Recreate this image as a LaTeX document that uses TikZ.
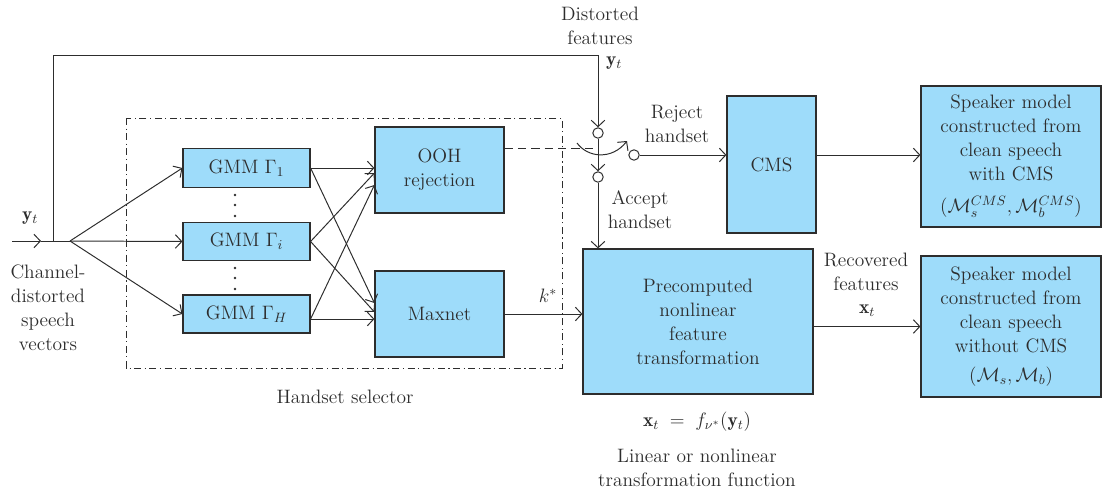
\documentclass[tikz,border=0pt]{standalone}
\usepackage{fix-cm}
\usepackage{fontspec}
\usetikzlibrary{arrows.meta,calc}
\definecolor{boxfill}{RGB}{158,220,250}
\definecolor{ink}{RGB}{45,45,45}
\tikzset{
  box/.style={draw=ink, fill=boxfill, line width=0.8pt, inner sep=0pt, align=center, text=ink},
  arr/.style={draw=ink, line width=0.7pt, -{Straight Barb[length=1.6mm,width=3.4mm,line width=0.7pt]}},
  ln/.style={draw=ink, line width=0.7pt},
  lbl/.style={text=ink, align=center, inner sep=0pt},
  sw/.style={circle, draw=ink, fill=white, line width=0.7pt, minimum size=0.26cm, inner sep=0pt},
  every node/.append style={font=\fontsize{13.8}{17}\selectfont}
}
\begin{document}
\begin{tikzpicture}[x=0.025cm,y=-0.025cm]
\useasboundingbox (0,0) rectangle (1103,493);

% boxes
\node[box, minimum width=3.175cm, minimum height=0.98cm] (g1) at (246.5,168) {GMM $\Gamma_1$};
\node[box, minimum width=3.175cm, minimum height=0.95cm] (gi) at (246.5,241.5) {GMM $\Gamma_i$};
\node[box, minimum width=3.175cm, minimum height=0.95cm] (gH) at (246.5,314) {GMM $\Gamma_H$};
\node[box, minimum width=3.225cm, minimum height=2.15cm] (ooh) at (439.5,170) {OOH\\rejection};
\node[box, minimum width=3.225cm, minimum height=2.15cm] (max) at (439.5,314) {Maxnet};
\node[box, minimum width=2.225cm, minimum height=3.425cm] (cms) at (771.5,164.5) {CMS};
\node[box, minimum width=5.75cm, minimum height=3.625cm] (pre) at (698,321.5) {Precomputed\\nonlinear\\feature\\transformation};
\node[box, minimum width=4.5cm, minimum height=3.525cm] (sm1) at (1011,156.5) {Speaker model\\constructed from\\clean speech\\with CMS\\[6pt]$(\mathcal{M}_s^{CMS},\mathcal{M}_b^{CMS})$};
\node[box, minimum width=4.5cm, minimum height=3.525cm] (sm2) at (1011,326.5) {Speaker model\\constructed from\\clean speech\\without CMS\\[4pt]$(\mathcal{M}_s,\mathcal{M}_b)$};

% handset selector frame
\draw[ink, line width=0.7pt, dash pattern=on 5pt off 2.5pt on 0.8pt off 2.5pt] (126,118) rectangle (562,368);
\node[lbl] (hs) at (345,397) {Handset selector};

% dots
\foreach \yy in {195,205,216,268,278,289} \fill[ink] (235,\yy) circle (1.3);

% switch circles
\node[sw] (c1) at (598,133) {};
\node[sw] (c2) at (598,177) {};
\node[sw] (c3) at (634,155) {};

% coordinates
\coordinate (inA) at (12,241);
\coordinate (inM) at (41,241);
\coordinate (J) at (70,241);
\coordinate (T1) at (53,241);
\coordinate (T3) at (598,55);
\coordinate (d2) at (597,148);
\coordinate (s1) at (577,143);
\coordinate (s2) at (627,141);

% input
\draw[arr] (inA) -- (inM);
\draw[ln] (inM) -- (J);
\draw[arr] (T1) |- (T3) -- (c1.north);

% fan
\draw[arr] (J) -- (g1.west);
\draw[arr] (J) -- (gi.west);
\draw[arr] (J) -- (gH.west);

% cross connections
\draw[arr] (g1.east) -- (g1.east -| ooh.west);
\draw[arr] (g1.east) -- ($(max.west)+(0,-11)$);
\draw[arr] (gi.east) -- ($(ooh.west)+(0,3)$);
\draw[arr] (gi.east) -- ($(max.west)+(0,-2)$);
\draw[arr] ($(gH.east)+(0,5)$) -- ($(ooh.west)+(0,15)$);
\draw[arr] ($(gH.east)+(0,5)$) -- ($(max.west)+(0,5)$);

% OOH dashed control
\draw[ln, dashed, dash pattern=on 6pt off 3.5pt] (ooh.east |- d2) -- (d2);
\draw[arr] (s1) .. controls (588,158) and (612,160) .. (s2);

% switch outputs
\draw[arr] (c1.south) -- (c2.north);
\draw[arr] (c2.south) -- (c2.south |- pre.north);
\draw[arr] (c3.east) -- (c3.east -| cms.west);
\draw[arr] (c3 -| cms.east) -- (c3 -| sm1.west);
\draw[arr] (max.east) -- (max.east -| pre.west);
\draw[arr] (pre.east |- sm2.west) -- (sm2.west);

% labels
\node[lbl] (yin) at (30,218) {$\mathbf{y}_t$};
\node[lbl] (chan) at (48,308) {Channel-\\distorted\\speech\\vectors};
\node[lbl] (dist) at (600,26) {Distorted\\features};
\node[lbl] (ytop) at (614,63) {$\mathbf{y}_t$};
\node[lbl] (rej) at (677,124) {Reject\\handset};
\node[lbl] (acc) at (640,210) {Accept\\handset};
\node[lbl] (ks) at (548,296) {$k^*$};
\node[lbl] (rec) at (866,272) {Recovered\\features};
\node[lbl] (xt) at (867,311) {$\mathbf{x}_t$};
\node[lbl] (eq) at (697,422) {$\mathbf{x}_t \;=\; f_{\nu^*}(\mathbf{y}_t)$};
\node[lbl] (lin) at (697,468) {Linear or nonlinear\\transformation function};
\end{tikzpicture}
\end{document}
